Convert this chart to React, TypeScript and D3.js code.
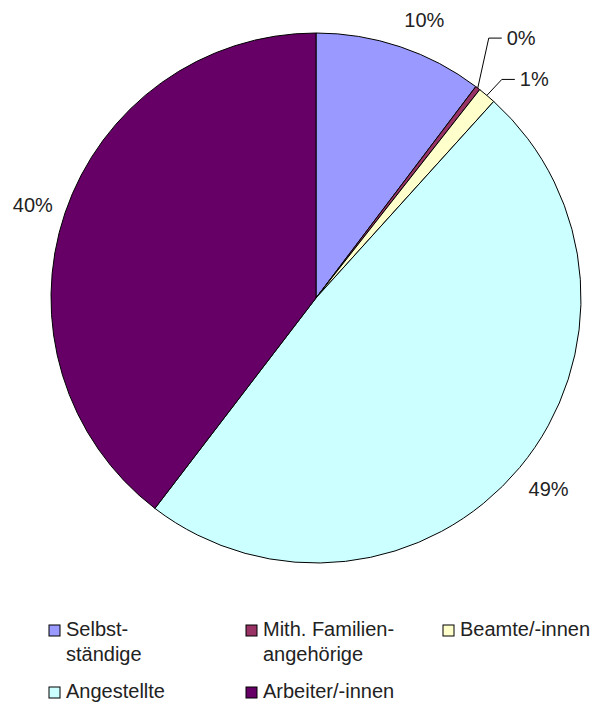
import { useEffect, useRef } from 'react';
import * as d3 from 'd3';

// Erwerbstätige nach Stellung im Beruf (Anteile in %)
const categories = ['Selbst-\nständige', 'Mith. Familien-\nangehörige', 'Beamte/-innen', 'Angestellte', 'Arbeiter/-innen'];
const values = [10.3, 0.3, 1.1, 48.7, 39.6];
const colors = ['#9999FF', '#993366', '#FFFFCC', '#CCFFFF', '#660066'];
// small slices get a leader line: elbow offset from the slice edge, then a short horizontal run
const leaders: ([number, number] | null)[] = [null, [11, -50], [15, -16], null, null];
// small nudges for the outside labels (Excel places them a bit off the mid-angle)
const nudges: [number, number][] = [[13, 6], [0, 0], [0, 0], [2, -1], [1, 3]];

const W = 602, H = 702;
const FONT = '"Liberation Sans", Arial, sans-serif';

export default function App() {
  const svgRef = useRef<SVGSVGElement>(null);

  useEffect(() => {
    if (!svgRef.current) return;
    const svg = d3.select(svgRef.current);
    svg.selectAll('*').remove();

    const cx = 316, cy = 298, r = 265;
    const g = svg.append('g').attr('transform', `translate(${cx},${cy})`);

    const pie = d3.pie<number>().sort(null).value(d => d).startAngle(0).endAngle(Math.PI * 2);
    const arcs = pie(values);
    const arc = d3.arc<d3.PieArcDatum<number>>().innerRadius(0).outerRadius(r);

    g.selectAll('path.slice').data(arcs).enter().append('path')
      .attr('class', 'slice')
      .attr('d', arc)
      .attr('fill', (_d, i) => colors[i])
      .attr('stroke', '#000').attr('stroke-width', 1).attr('stroke-linejoin', 'round');

    // Labels
    const labelR = 300;
    arcs.forEach((a, i) => {
      const mid = (a.startAngle + a.endAngle) / 2;
      const txt = `${Math.round(values[i])}%`;
      const lead = leaders[i];
      if (lead) {
        const sx = r * Math.sin(mid), sy = -r * Math.cos(mid);
        const ex = sx + lead[0], ey = sy + lead[1];
        g.append('polyline')
          .attr('points', `${sx},${sy} ${ex},${ey} ${ex + 13},${ey}`)
          .attr('fill', 'none').attr('stroke', '#000').attr('stroke-width', 1);
        g.append('text').attr('x', ex + 18).attr('y', ey).attr('dy', '0.35em')
          .attr('font-family', FONT).attr('font-size', 20).attr('fill', '#222')
          .text(txt);
      } else {
        g.append('text')
          .attr('x', labelR * Math.sin(mid) + nudges[i][0]).attr('y', -labelR * Math.cos(mid) + nudges[i][1])
          .attr('dy', '0.35em').attr('text-anchor', 'middle')
          .attr('font-family', FONT).attr('font-size', 20).attr('fill', '#222')
          .text(txt);
      }
    });

    // Legend
    const colX = [49, 246, 443];
    const rowBase = [636, 698];
    const sq = 11;
    const leg = svg.append('g');
    categories.forEach((c, i) => {
      const col = i % 3, row = Math.floor(i / 3);
      const x = colX[col], y = rowBase[row];
      leg.append('rect').attr('x', x).attr('y', y - sq).attr('width', sq).attr('height', sq)
        .attr('fill', colors[i]).attr('stroke', '#000').attr('stroke-width', 1);
      const t = leg.append('text').attr('y', y)
        .attr('font-family', FONT).attr('font-size', 20).attr('fill', '#222');
      c.split('\n').forEach((line, k) => {
        t.append('tspan').attr('x', x + 17).attr('dy', k === 0 ? 0 : 25).text(line);
      });
    });
  }, []);

  return (
    <svg ref={svgRef} width={W} height={H} viewBox={`0 0 ${W} ${H}`}
      style={{ position: 'absolute', left: 0, top: 0, background: '#fff' }} />
  );
}
